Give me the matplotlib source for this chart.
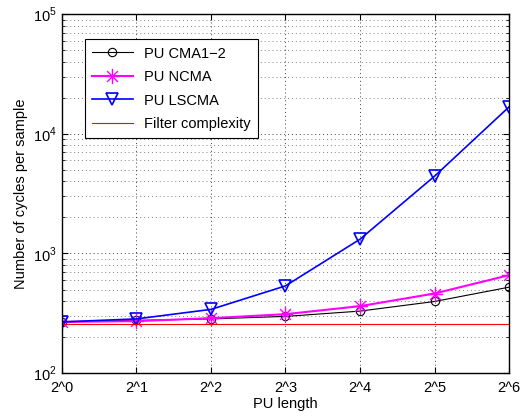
import matplotlib
matplotlib.use('Agg')
import matplotlib.pyplot as plt
import numpy as np
from matplotlib.path import Path

plt.rcParams['font.family'] = ['Liberation Sans', 'DejaVu Sans']
plt.rcParams['mathtext.fontset'] = 'custom'
plt.rcParams['mathtext.rm'] = 'Liberation Sans'

X_LABELS = ['2^0', '2^1', '2^2', '2^3', '2^4', '2^5', '2^6']
CMA12 = [268, 276, 284, 298, 330, 397, 523]
NCMA = [268, 272, 288, 311, 363, 463, 659]
LSCMA = [268, 284, 341, 536, 1316, 4424, 16790]
FILTER = [256, 256, 256, 256, 256, 256, 256]

# matlab style asterisk: + and x together
d = 0.7071
ASTERISK = Path([(0, -1), (0, 1), (-1, 0), (1, 0), (-d, -d), (d, d), (-d, d), (d, -d)],
                [Path.MOVETO, Path.LINETO] * 4)

x = np.arange(len(X_LABELS))

fig = plt.figure(figsize=(5.2, 4.16), dpi=100)
ax = fig.add_axes([0.119, 0.103, 0.860, 0.863])

ax.plot(x, CMA12, '-o', color='black', lw=0.8, ms=6, mfc='none', mew=0.8, label='PU CMA1\u22122')
ax.plot(x, NCMA, '-', marker=ASTERISK, color='magenta', lw=1.5, ms=11, mew=1.0, label='PU NCMA')
ax.plot(x, LSCMA, '-v', color='blue', lw=1.2, ms=8, mfc='none', mew=1.2, label='PU LSCMA')
ax.plot(x, FILTER, '-', color='red', lw=0.8, label='Filter complexity')

ax.set_yscale('log')
ax.set_ylim(100, 1e5)
ax.set_xlim(0, 6)
ax.set_xticks(x)
ax.set_xticklabels(X_LABELS)
ax.set_yticks([1e2, 1e3, 1e4, 1e5])
ax.set_yticklabels([r'$10^{2}$', r'$10^{3}$', r'$10^{4}$', r'$10^{5}$'])

ax.grid(True, which='major', linestyle=(0, (1, 3)), color='black', lw=0.7, alpha=0.75)
ax.grid(True, which='minor', axis='y', linestyle=(0, (1, 3)), color='black', lw=0.7, alpha=0.5)
ax.tick_params(which='both', direction='in', top=True, right=True, labelsize=10.5)
ax.tick_params(which='major', length=4)
ax.tick_params(which='minor', length=2)
ax.tick_params(axis='x', pad=6)
for s in ax.spines.values():
    s.set_linewidth(1.0)

ax.set_xlabel('PU length', fontsize=10.5, labelpad=1)
ax.set_ylabel('Number of cycles per sample', fontsize=10.5)

leg = ax.legend(loc='upper left', bbox_to_anchor=(0.051, 0.93), borderaxespad=0,
                fontsize=10.5, fancybox=False, framealpha=1, edgecolor='black',
                borderpad=0.5, handlelength=2.8, labelspacing=0.65)
leg.get_frame().set_linewidth(0.8)

fig.savefig('out.png', dpi=100)
